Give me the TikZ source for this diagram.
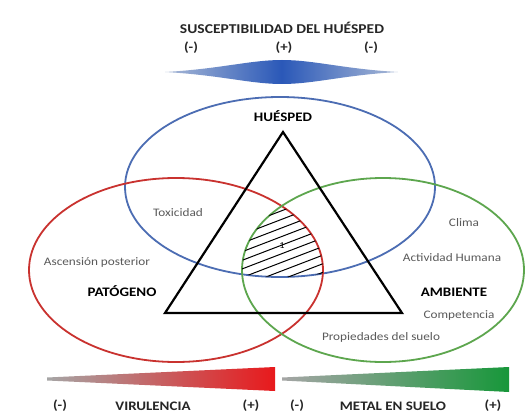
\documentclass[tikz,border=0pt]{standalone}
\usepackage{fontspec}
\setmainfont{Carlito}[FakeStretch=1.15]
\definecolor{cblue}{HTML}{4C6DB3}
\definecolor{cred}{HTML}{C9322F}
\definecolor{cgreen}{HTML}{5DA64E}
\definecolor{txtgray}{HTML}{5A5A5A}
\definecolor{spblue}{HTML}{2A58B8}
\definecolor{spend}{HTML}{A9B9D6}
\definecolor{wred}{HTML}{E8191C}
\definecolor{wgreen}{HTML}{17973A}
\tikzset{
  ring/.style={line width=1.8pt},
  tri/.style={line width=2.2pt, line join=miter},
  lbl/.style={font=\fontsize{11.5}{12}\selectfont, text=txtgray, inner sep=0pt},
  blbl/.style={font=\fontsize{13}{14}\selectfont\bfseries, text=black, inner sep=0pt},
  scl/.style={font=\fontsize{13}{14}\selectfont\bfseries, text=black!85, inner sep=0pt},
  hatchline/.style={line width=1pt, black}
}
\begin{document}
\begin{tikzpicture}[x=1pt,y=-1pt]
\useasboundingbox (0,0) rectangle (529,417);
\fill[white] (0,0) rectangle (529,417);

% top scale
\node[scl, font=\fontsize{13.5}{14}\selectfont\bfseries] (title) at (282,28) {SUSCEPTIBILIDAD DEL HUÉSPED};
\node[scl] (tm1) at (191,48) {(-)};
\node[scl] (tp) at (284,48) {(+)};
\node[scl] (tm2) at (371,48) {(-)};
\shade[shading=axis, left color=spend, right color=spend, middle color=spblue]
  (165,72) .. controls (220,69) and (250,60) .. (282,60)
  .. controls (314,60) and (344,69) .. (398,72)
  .. controls (344,75) and (314,84) .. (282,84)
  .. controls (250,84) and (220,75) .. (165,72) -- cycle;

% ellipses
\draw[ring, cblue] (280,187) ellipse [x radius=155, y radius=90];
\draw[ring, cred] (176,270) ellipse [x radius=147, y radius=92];
\draw[ring, cgreen] (383,270) ellipse [x radius=141, y radius=92];

% hatched intersection
\begin{scope}
  \clip (280,187) ellipse [x radius=155, y radius=90];
  \clip (176,270) ellipse [x radius=147, y radius=92];
  \clip (383,270) ellipse [x radius=141, y radius=92];
  \foreach \i in {0,...,20} {
    \draw[hatchline] (220,{200+\i*8.6}) -- (360,{200+\i*8.6-53.7});
  }
\end{scope}
\node[inner sep=0pt, font=\fontsize{9}{10}\selectfont] (one) at (282,246) {1};

% triangle
\coordinate (A) at (283,132);
\coordinate (B) at (165,313);
\coordinate (C) at (402,313);
\draw[tri] (A) -- (B) -- (C) -- cycle;

% labels
\node[blbl] (hues) at (283,116) {HUÉSPED};
\node[lbl] (tox) at (178,213) {Toxicidad};
\node[lbl] (asc) at (97,262) {Ascensión posterior};
\node[blbl] (pat) at (122,291) {PATÓGENO};
\node[lbl] (clima) at (464,223) {Clima};
\node[lbl] (act) at (452,258) {Actividad Humana};
\node[blbl] (amb) at (454,292) {AMBIENTE};
\node[lbl] (comp) at (459,315) {Competencia};
\node[lbl] (prop) at (381,337) {Propiedades del suelo};

% bottom wedges
\shade[shading=axis, left color=gray!70, right color=wred]
  (47,377.5) -- (275,367) -- (275,391) -- (47,380.5) -- cycle;
\shade[shading=axis, left color=gray!70, right color=wgreen]
  (282,377.5) -- (509,367) -- (509,392) -- (282,380.5) -- cycle;

\node[scl] (vm) at (60,406) {(-)};
\node[scl] (vir) at (153,406) {VIRULENCIA};
\node[scl] (vp) at (251,406) {(+)};
\node[scl] (mm) at (297,406) {(-)};
\node[scl] (met) at (393,406) {METAL EN SUELO};
\node[scl] (mp) at (493,406) {(+)};
\end{tikzpicture}
\end{document}
